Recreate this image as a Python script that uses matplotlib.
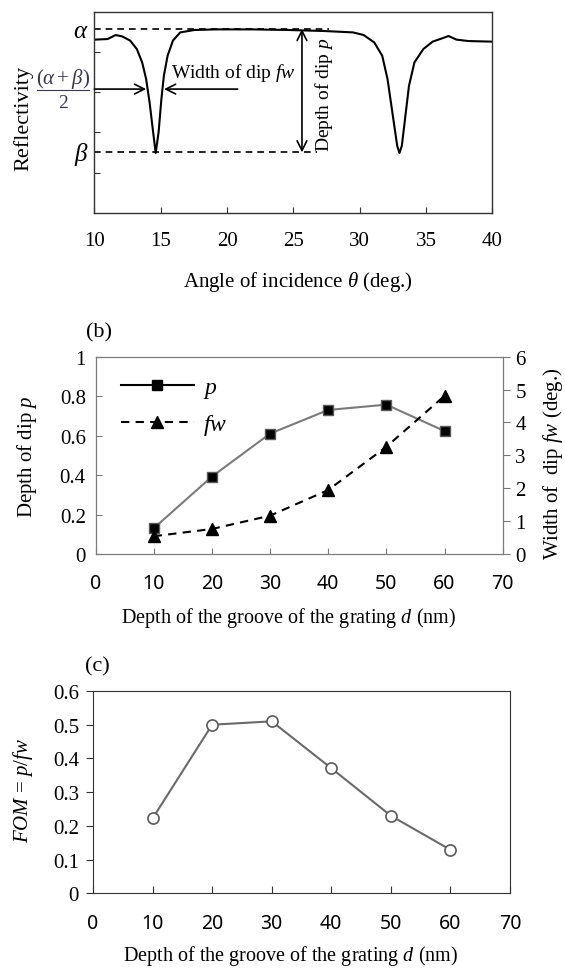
import numpy as np
import matplotlib.pyplot as plt
from matplotlib.lines import Line2D

plt.rcParams['font.family'] = ['Liberation Serif', 'DejaVu Serif']
plt.rcParams['mathtext.fontset'] = 'custom'
plt.rcParams['mathtext.rm'] = 'Liberation Serif'
plt.rcParams['mathtext.it'] = 'Liberation Serif:italic'
plt.rcParams['mathtext.bf'] = 'Liberation Serif:bold'

# (a) reflectivity curve
angle = [10.0, 11.0, 11.6, 12.1, 12.7, 13.2, 13.6, 13.9, 14.16, 14.43, 14.62,
         14.84, 15.05, 15.24, 15.52, 15.92, 16.47, 17.55, 19.2, 21.9, 24.6,
         27.3, 29.5, 30.3, 31.1, 31.7, 32.1, 32.5, 32.83, 33.0, 33.18, 33.45,
         33.72, 34.13, 34.8, 35.5, 36.2, 36.7, 37.3, 38.2, 40.0]
refl = [0.861, 0.864, 0.884, 0.877, 0.856, 0.814, 0.748, 0.665, 0.549, 0.400,
        0.297, 0.400, 0.565, 0.682, 0.781, 0.856, 0.897, 0.909, 0.912, 0.912,
        0.909, 0.904, 0.897, 0.884, 0.847, 0.781, 0.665, 0.483, 0.333, 0.297,
        0.333, 0.483, 0.632, 0.748, 0.814, 0.851, 0.867, 0.879, 0.861, 0.854,
        0.851]
alpha_lvl = 0.914
beta_lvl = 0.300

# (b) and (c)
depth = [10, 20, 30, 40, 50, 60]
p_dip = [0.13, 0.392, 0.61, 0.73, 0.757, 0.623]
fw = [0.54, 0.76, 1.165, 1.945, 3.26, 4.81]
fom = [0.222, 0.50, 0.51, 0.371, 0.23, 0.129]

W, H = 565, 970
fig = plt.figure(figsize=(W / 100, H / 100), dpi=100)


def rect(l, r, t, b):
    return [l / W, 1 - b / H, (r - l) / W, (b - t) / H]


def ftext(x, y, s, **kw):
    fig.text(x / W, 1 - y / H, s, **kw)


fs = 15      # serif labels / ticks
fsx = 14     # sans x tick labels of (b), (c)
sans = ['Noto Sans', 'DejaVu Sans']

# ---------- (a) ----------
ax1 = fig.add_axes(rect(94.4, 492.3, 12.7, 213.7))
ax1.plot(angle, refl, color='black', lw=1.5)
ax1.set_xlim(10, 40)
ax1.set_ylim(0, 1)
ax1.set_xticks(range(10, 41, 5))
ax1.set_yticks([0.2, 0.4, 0.6, 0.8])
ax1.set_yticklabels([])
ax1.tick_params(axis='both', direction='in', length=4, labelsize=fs, colors='#333333')
ax1.tick_params(axis='x', pad=13, labelcolor='black')
for sp in ax1.spines.values():
    sp.set_color('#333333')
    sp.set_linewidth(1.0)

ax1.plot([10, 27.7], [alpha_lvl, alpha_lvl], color='black', lw=1.2, ls=(0, (4, 3)), clip_on=False)
ax1.plot([10, 26.8], [beta_lvl, beta_lvl], color='black', lw=1.2, ls=(0, (4, 3)), clip_on=False)
mid = (alpha_lvl + beta_lvl) / 2 + 0.008
ax1.annotate('', xy=(13.9, mid), xytext=(10, mid),
             arrowprops=dict(arrowstyle='->,head_length=0.7,head_width=0.35', color='black', lw=1.2,
                             shrinkA=0, shrinkB=0))
ax1.annotate('', xy=(15.25, mid), xytext=(20.8, mid),
             arrowprops=dict(arrowstyle='->,head_length=0.7,head_width=0.35', color='black', lw=1.2,
                             shrinkA=0, shrinkB=0))
ax1.annotate('', xy=(25.65, beta_lvl), xytext=(25.65, alpha_lvl),
             arrowprops=dict(arrowstyle='<->,head_length=0.7,head_width=0.35', color='black', lw=1.2,
                             shrinkA=0, shrinkB=0))
ax1.text(15.8, 0.70, r'Width of dip $fw$', fontsize=14, ha='left', va='center')
ax1.text(27.3, 0.59, r'Depth of dip $p$', fontsize=14, ha='center', va='center', rotation=90)

ftext(81, 32, r'$\alpha$', fontsize=fs + 3, ha='center', va='center')
ftext(81, 154, r'$\beta$', fontsize=fs + 3, ha='center', va='center')
fc = '#3a3548'
ftext(63, 79, r'$(\alpha+\beta)$', fontsize=fs, ha='center', va='center', color=fc)
ftext(63, 103, '2', fontsize=fs - 1, ha='center', va='center', color=fc)
fig.add_artist(Line2D([37 / W, 89 / W], [1 - 90.5 / H, 1 - 90.5 / H], color=fc, lw=0.8))
ftext(23, 118, 'Reflectivity', fontsize=fs + 1, ha='center', va='center', rotation=90)
ftext(298, 282, r'Angle of incidence $\theta$ (deg.)', fontsize=fs, ha='center', va='center')

# ---------- (b) ----------
ax2 = fig.add_axes(rect(95.5, 502.7, 357.7, 555))
ax2.plot(depth, p_dip, color='#7a7a7a', lw=1.5, marker='s', ms=7.5,
         mfc='black', mec='#5a5a5a', mew=1.0, zorder=3)
ax2.set_xlim(0, 70)
ax2.set_ylim(0, 1)
ax2.set_xticks(range(0, 71, 10))
ax2.set_yticks(np.arange(0, 1.01, 0.2))
ax2.set_yticklabels(['0', '0.2', '0.4', '0.6', '0.8', '1'])
ax2.tick_params(axis='y', direction='in', length=4, labelsize=fs, colors='#7a7a7a', labelcolor='black', pad=7)
ax2.tick_params(axis='x', direction='in', length=4, labelsize=fsx, colors='#7a7a7a', labelcolor='black', pad=14)
for lb in ax2.get_xticklabels():
    lb.set_family(sans)
for sp in ax2.spines.values():
    sp.set_color('#7a7a7a')

ax2r = ax2.twinx()
ax2r.plot(depth, fw, color='black', lw=1.5, ls=(0, (4, 3)), marker='^', ms=8, mfc='black', mec='black', zorder=3)
ax2r.set_ylim(0, 6)
ax2r.set_yticks(range(0, 7))
ax2r.tick_params(axis='y', direction='out', length=5, labelsize=fs, colors='#7a7a7a', labelcolor='black', pad=4)
for sp in ax2r.spines.values():
    sp.set_color('#7a7a7a')

handles = [Line2D([], [], color='black', lw=1.5, marker='s', ms=7.5, mfc='black'),
           Line2D([], [], color='black', lw=1.5, ls=(0, (4, 3)), marker='^', ms=8, mfc='black')]
ax2.legend(handles, [r'$p$', r'$fw$'], loc='upper left', bbox_to_anchor=(0.01, 1.005),
           frameon=False, fontsize=fs + 2, handlelength=3.1, labelspacing=0.5, handletextpad=0.36)

ftext(99, 333, '(b)', fontsize=fs + 1, ha='center', va='center')
ftext(27, 457, r'Depth of dip $p$', fontsize=fs, ha='center', va='center', rotation=90)
ftext(553, 464, r'Width of  dip $fw$ (deg.)', fontsize=fs, ha='center', va='center', rotation=90)
ftext(289, 618, r'Depth of the groove of the grating $d$ (nm)', fontsize=14.5, ha='center', va='center')

# ---------- (c) ----------
ax3 = fig.add_axes(rect(93, 510, 692, 894.3))
ax3.plot(depth, fom, color='#6a6a6a', lw=1.5, marker='o', ms=8, mfc='white', mec='#5a5a5a', mew=1.2)
ax3.set_xlim(0, 70)
ax3.set_ylim(0, 0.6)
ax3.set_xticks(range(0, 71, 10))
ax3.set_yticks(np.arange(0, 0.61, 0.1))
ax3.set_yticklabels(['0', '0.1', '0.2', '0.3', '0.4', '0.5', '0.6'])
ax3.tick_params(axis='y', direction='out', length=5, labelsize=fs, colors='#333333', labelcolor='black', pad=5)
ax3.tick_params(axis='x', direction='in', length=5, labelsize=fsx, colors='#333333', labelcolor='black', pad=14)
for lb in ax3.get_xticklabels():
    lb.set_family(sans)
for sp in ax3.spines.values():
    sp.set_color('#333333')

ftext(97, 667, '(c)', fontsize=fs + 1, ha='center', va='center')
ftext(23, 790, r'$FOM$ = $p/fw$', fontsize=fs, ha='center', va='center', rotation=90)
ftext(291, 956, r'Depth of the groove of the grating $d$ (nm)', fontsize=14.5, ha='center', va='center')

fig.savefig('out.png', dpi=100)
